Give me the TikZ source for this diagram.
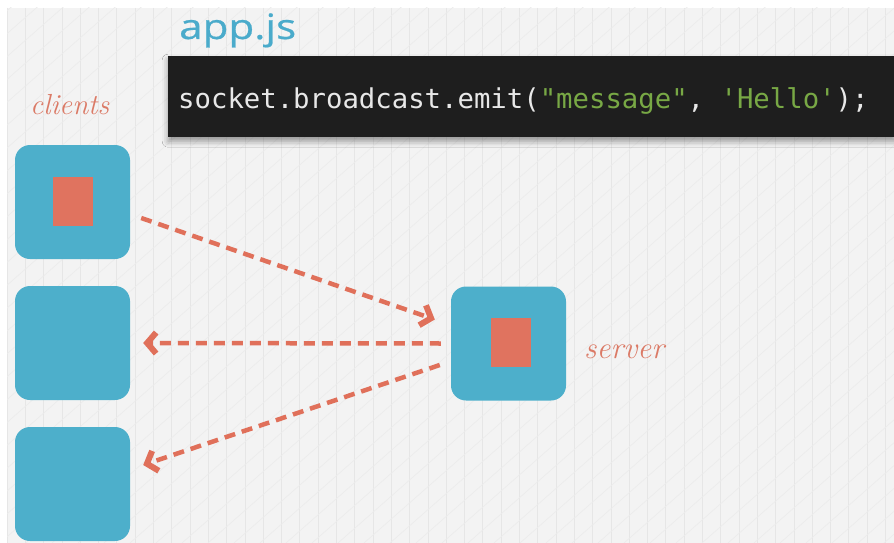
\documentclass[tikz,border=0pt]{standalone}
\usepackage{fontspec}
\usepackage{graphicx}
\usetikzlibrary{arrows.meta,shadows.blur}
\newfontfamily\codefont{DejaVu Sans Mono}
\newfontfamily\titlefont[FakeBold=0.6]{Open Sans}

\definecolor{paper}{HTML}{F3F3F3}
\definecolor{rule}{HTML}{E6E6E6}
\definecolor{hatch}{HTML}{ECECEC}
\definecolor{boxblue}{HTML}{4DAFCB}
\definecolor{chip}{HTML}{E0735F}
\definecolor{wire}{HTML}{E0705A}
\definecolor{hand}{HTML}{DB7A66}
\definecolor{titleblue}{HTML}{4AABCB}
\definecolor{codebg}{HTML}{1E1E1E}
\definecolor{codefg}{HTML}{E8E8E8}
\definecolor{codestr}{HTML}{78A845}

\tikzset{
  machine/.style={draw=none, fill=boxblue, rounded corners=15pt,
    minimum width=115pt, minimum height=114pt, inner sep=0pt},
  chipbox/.style={draw=none, fill=chip, minimum width=40pt,
    minimum height=49pt, inner sep=0pt},
  handlabel/.style={text=hand, inner sep=0pt, anchor=base west,
    font=\fontsize{29}{31}\selectfont\itshape},
  conn/.style={draw=wire, line width=4.5pt, dash pattern=on 11pt off 7pt,
    -{Straight Barb[length=9pt,width=21pt,line width=6pt]}},
}

\begin{document}
\begin{tikzpicture}[x=1pt,y=-1pt]
  \useasboundingbox (0,0) rectangle (894,543);
  \fill[white] (0,0) rectangle (894,543);

  % ruled paper background
  \fill[paper] (7,8) rectangle (894,543);
  \begin{scope}
    \clip (7,8) rectangle (894,543);
    \foreach \k in {0,...,48} {
      \draw[rule, line width=0.8pt] (7+18.3*\k,8) -- (7+18.3*\k,543);
    }
    \foreach \k in {-30,...,40} {
      \draw[hatch, line width=0.7pt] (26*\k,543) -- (26*\k+640,-20);
    }
  \end{scope}

  % code panel
  \node[fill=codebg, minimum width=727pt, minimum height=81pt, inner sep=0pt,
        anchor=north west,
        blur shadow={shadow xshift=0pt, shadow yshift=-4pt,
                     shadow blur radius=6pt, shadow opacity=40}]
        (code) at (168,56) {};
  \node[anchor=base west, inner sep=0pt, text=codefg,
        font=\codefont\fontsize{27.3}{30}\selectfont] (line) at (178,108)
        {socket.broadcast.emit(\textcolor{codestr}{"message"}, \textcolor{codestr}{'Hello'});};

  % file name, set wide
  \node[anchor=base west, inner sep=0pt, text=titleblue,
        font=\titlefont\fontsize{35}{38}\selectfont]
        (file) at (179,39) {\resizebox{117pt}{\height}{app.js}};

  % clients
  \node[handlabel] (clientslabel) at (30,114) {clients};
  \node[machine] (c1) at (72.5,202) {};
  \node[chipbox] (c1chip) at (73,201.5) {};
  \node[machine] (c2) at (72.5,343) {};
  \node[machine] (c3) at (72.5,484) {};

  % server
  \node[machine] (s) at (508.5,343.5) {};
  \node[chipbox] (schip) at (511,342.5) {};
  \node[handlabel, font=\fontsize{31}{33}\selectfont\itshape] (serverlabel) at (584,358) {server};

  % message flow
  \draw[conn] ([shift={(11,16)}]c1.east) -- ([shift={(-16,-24)}]s.west);
  \draw[conn] ([shift={(-10,0)}]s.west) -- ([shift={(13,0)}]c2.east);
  \draw[conn] ([shift={(-11,21.5)}]s.west) -- ([shift={(13,-19)}]c3.east);
\end{tikzpicture}
\end{document}
